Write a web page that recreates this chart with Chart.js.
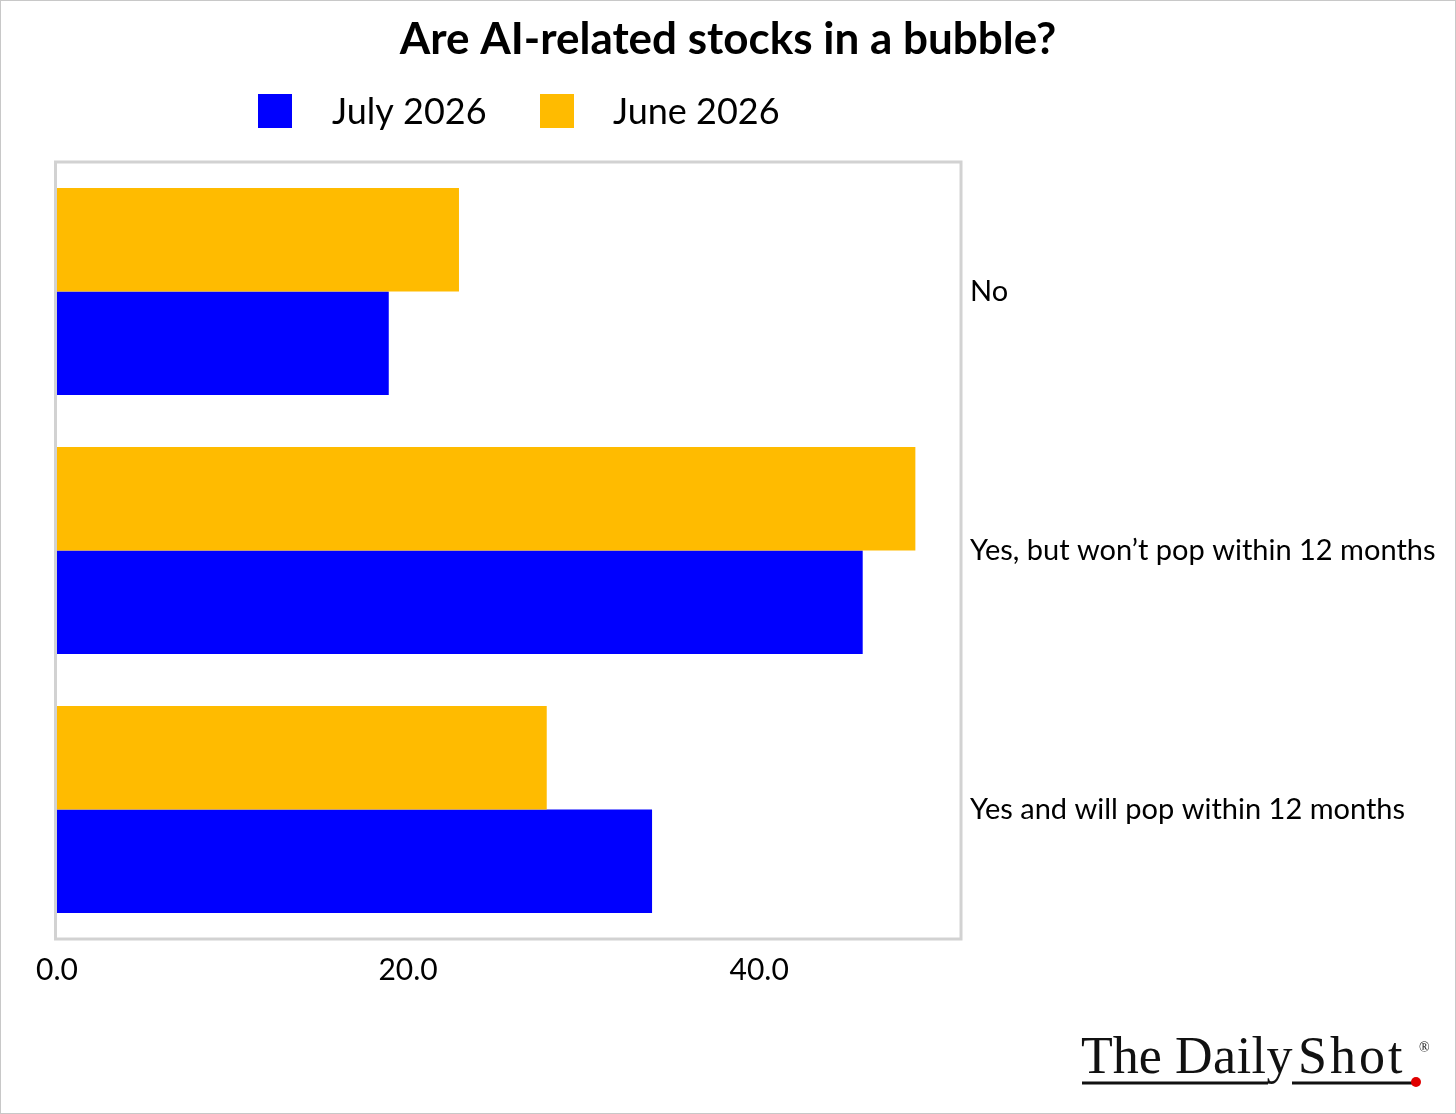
<!DOCTYPE html>
<html>
<head>
<meta charset="utf-8">
<script src="https://cdn.jsdelivr.net/npm/chart.js@4.4.1/dist/chart.umd.min.js"></script>
<style>
    html, body { margin: 0; padding: 0; background: #fff; }
    #wrap { width: 1456px; height: 1114px; position: relative; }
</style>
</head>
<body>
<div id="wrap"><canvas id="myChart"></canvas></div>
<script>
//#region DATA
const title = 'Are AI-related stocks in a bubble?';
const categories = ['No', 'Yes, but won\u2019t pop within 12 months', 'Yes and will pop within 12 months'];
const june2026 = [22.9, 48.9, 27.9];
const july2026 = [18.9, 45.9, 33.9];
const seriesNames = ['June 2026', 'July 2026'];
const seriesColors = ['#ffbb00', '#0000ff'];
const xTicks = [0, 20, 40];
const xMax = 51.5;
//#endregion DATA

//#region PLUGINS
// title, frame round the plot, legend, logo and outer border
const decorations = {
    id: 'decorations',
    afterDraw(chart) {
        const ctx = chart.ctx;
        const a = chart.chartArea;
        ctx.save();

        // title, centred on the whole picture
        ctx.fillStyle = '#000';
        ctx.font = 'bold 44px Lato';
        ctx.textAlign = 'center';
        ctx.textBaseline = 'middle';
        ctx.fillText(title, chart.width / 2, 40);

        // plot frame
        ctx.strokeStyle = '#d2d2d2';
        ctx.lineWidth = 3;
        ctx.strokeRect(a.left - 1.5, a.top, a.right - a.left + 1.5, a.bottom - a.top);

        // legend: July first, then June
        const items = [
            { text: seriesNames[1], color: seriesColors[1], box: 258, tx: 332 },
            { text: seriesNames[0], color: seriesColors[0], box: 540, tx: 613 }
        ];
        ctx.font = '36px Lato';
        ctx.textAlign = 'left';
        items.forEach(it => {
            ctx.fillStyle = it.color;
            ctx.fillRect(it.box, 94, 34, 34);
            ctx.fillStyle = '#000';
            ctx.fillText(it.text, it.tx, 112);
        });

        // logo
        ctx.fillStyle = '#111';
        ctx.font = '52px "Liberation Serif"';
        ctx.textBaseline = 'alphabetic';
        ctx.fillText('The', 1081, 1073);
        ctx.letterSpacing = '0.5px';
        ctx.fillText('Daily', 1175, 1073);
        ctx.letterSpacing = '3px';
        ctx.fillText('Shot', 1298, 1073);
        ctx.letterSpacing = '0px';
        ctx.font = '14px "Liberation Serif"';
        ctx.fillText('\u00ae', 1419, 1052);
        ctx.strokeStyle = '#111';
        ctx.lineWidth = 3;
        ctx.beginPath();
        ctx.moveTo(1082, 1083); ctx.lineTo(1268, 1083);
        ctx.moveTo(1292, 1083); ctx.lineTo(1415, 1083);
        ctx.stroke();
        ctx.fillStyle = '#e00000';
        ctx.beginPath();
        ctx.arc(1416, 1082, 5, 0, Math.PI * 2);
        ctx.fill();

        // outer border
        ctx.strokeStyle = '#c8c8c8';
        ctx.lineWidth = 1;
        ctx.strokeRect(0.5, 0.5, chart.width - 1, chart.height - 1);
        ctx.restore();
    }
};
//#endregion PLUGINS

//#region CHART
const ctx = document.getElementById('myChart').getContext('2d');
new Chart(ctx, {
    type: 'bar',
    data: {
        labels: categories,
        datasets: [
            { label: seriesNames[0], data: june2026, backgroundColor: seriesColors[0] },
            { label: seriesNames[1], data: july2026, backgroundColor: seriesColors[1] }
        ]
    },
    options: {
        indexAxis: 'y',
        responsive: true,
        maintainAspectRatio: false,
        animation: false,
        categoryPercentage: 0.8,
        barPercentage: 1.0,
        layout: { padding: { left: 57, top: 162, right: 0, bottom: 0 } },
        scales: {
            x: {
                min: 0,
                max: xMax,
                afterBuildTicks: s => { s.ticks = xTicks.map(v => ({ value: v })); },
                afterFit: s => { s.height = 175; },
                grid: { display: false, drawTicks: false },
                border: { display: false },
                ticks: {
                    color: '#000',
                    font: { family: 'Lato', size: 30 },
                    padding: 13,
                    maxRotation: 0,
                    callback: v => Number(v).toFixed(1)
                }
            },
            y: {
                position: 'right',
                afterFit: s => { s.width = 495; },
                grid: { display: false, drawTicks: false },
                border: { display: false },
                ticks: {
                    color: '#000',
                    font: { family: 'Lato', size: 29 },
                    padding: 9
                }
            }
        },
        plugins: {
            legend: { display: false },
            tooltip: { enabled: false },
            title: { display: false }
        }
    },
    plugins: [decorations]
});
//#endregion CHART
</script>
</body>
</html>
